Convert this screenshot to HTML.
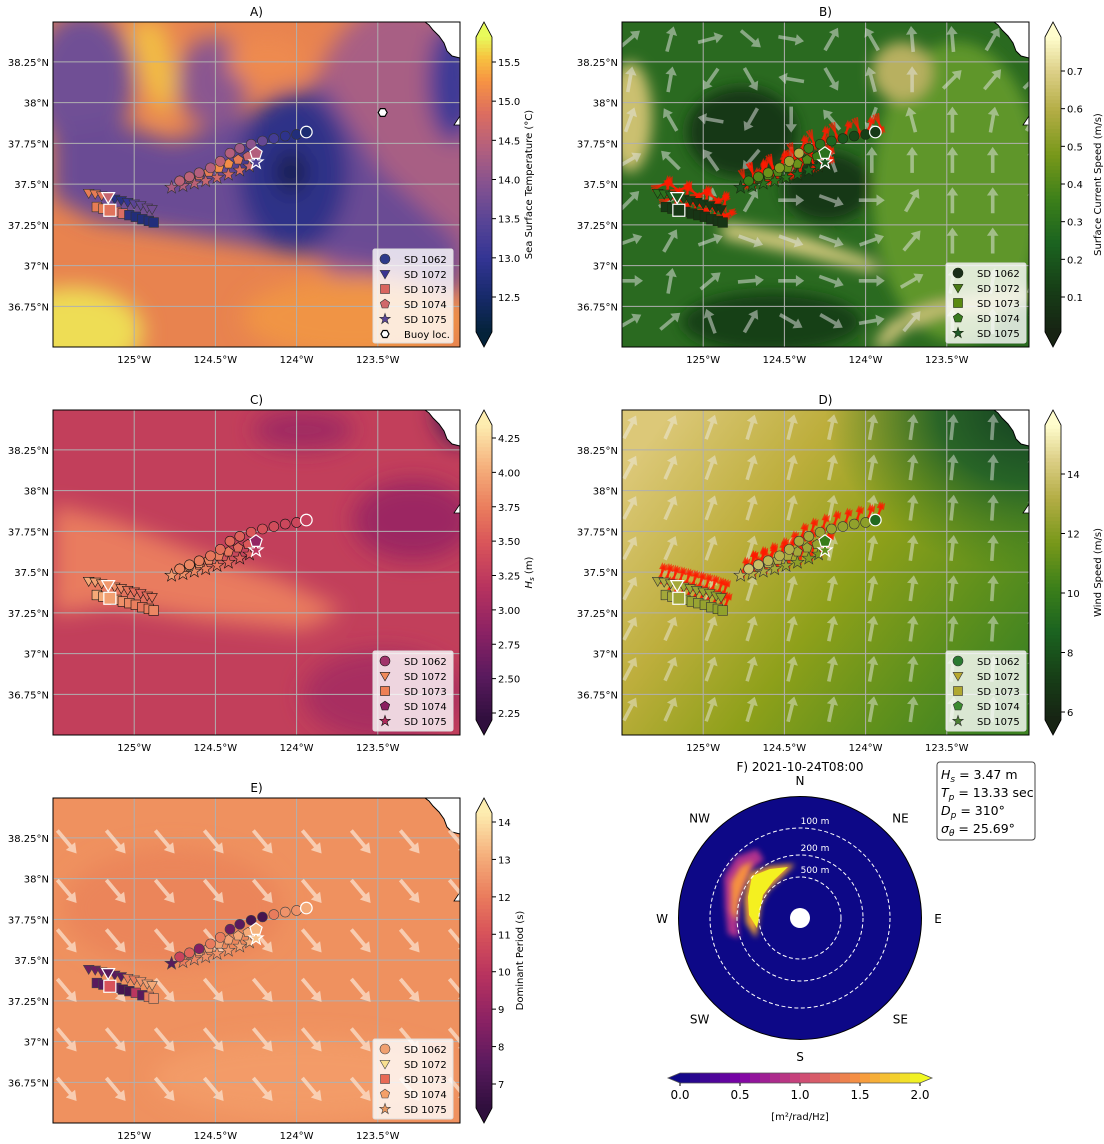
<!DOCTYPE html>
<html><head><meta charset="utf-8"><style>
body{margin:0;background:#fff}
svg{display:block;font-family:"DejaVu Sans","Liberation Sans",sans-serif}
</style></head><body>
<svg id="fig" width="1104" height="1144" viewBox="0 0 1104 1144" xmlns="http://www.w3.org/2000/svg">
<defs>
<filter id="b15" x="-30%" y="-30%" width="160%" height="160%"><feGaussianBlur stdDeviation="11"/></filter>
<filter id="b8" x="-30%" y="-30%" width="160%" height="160%"><feGaussianBlur stdDeviation="7"/></filter>
<filter id="b3" x="-30%" y="-30%" width="160%" height="160%"><feGaussianBlur stdDeviation="3"/></filter>
<linearGradient id="gD" x1="0" y1="0.2" x2="1" y2="0.8"><stop offset="0" stop-color="#dcc878"/><stop offset="0.3" stop-color="#bdae3c"/><stop offset="0.55" stop-color="#8ea01a"/><stop offset="0.8" stop-color="#5f901c"/><stop offset="1" stop-color="#3d8222"/></linearGradient>
<radialGradient id="gDtr" cx="1" cy="0" r="0.5"><stop offset="0" stop-color="#143f22"/><stop offset="0.45" stop-color="#1e5e28" stop-opacity="0.9"/><stop offset="1" stop-color="#3a7d22" stop-opacity="0"/></radialGradient>
</defs>
</svg>
<script>
// ---------- data ----------
const lonTicks=[-125,-124.5,-124,-123.5];
const lonLabels=["125°W","124.5°W","124°W","123.5°W"];
const latTicks=[38.25,38,37.75,37.5,37.25,37,36.75];
const latLabels=["38.25°N","38°N","37.75°N","37.5°N","37.25°N","37°N","36.75°N"];
const trackNames=["SD 1062","SD 1072","SD 1073","SD 1074","SD 1075"];
const c62Lon=[-124.72,-124.66,-124.60,-124.53,-124.47,-124.41,-124.35,-124.28,-124.21,-124.14,-124.07,-124.00,-123.94];
const c62Lat=[37.52,37.545,37.57,37.60,37.64,37.69,37.72,37.745,37.765,37.78,37.795,37.805,37.82];
const t72Lon=[-125.28,-125.24,-125.20,-125.16,-125.12,-125.08,-125.04,-125.00,-124.96,-124.92,-124.89];
const t72Lat=[37.445,37.44,37.43,37.42,37.41,37.40,37.39,37.38,37.37,37.355,37.345];
const q73Lon=[-125.23,-125.19,-125.15,-125.11,-125.07,-125.03,-124.99,-124.95,-124.91,-124.88];
const q73Lat=[37.36,37.35,37.34,37.33,37.32,37.31,37.30,37.285,37.275,37.265];
const p74Lon=[-124.72,-124.66,-124.60,-124.54,-124.48,-124.42,-124.36,-124.30,-124.25];
const p74Lat=[37.52,37.535,37.555,37.575,37.60,37.625,37.65,37.67,37.69];
const s75Lon=[-124.77,-124.70,-124.63,-124.56,-124.49,-124.42,-124.35,-124.29,-124.25];
const s75Lat=[37.48,37.49,37.505,37.52,37.54,37.56,37.585,37.61,37.635];
const buoyLon=[-123.47]; const buoyLat=[37.94];
const sstC=[14.5,14.5,14.4,14.4,14.5,14.4,14.2,14.0,13.6,13.2,12.9,12.7,12.6];
const sstT=[15.0,15.0,14.9,14.6,12.8,12.8,13.0,13.5,13.6,13.7,13.7];
const sstQ=[15.0,15.0,14.9,14.8,14.8,12.8,12.7,12.7,12.7,12.7];
const sstP=[14.5,14.6,14.8,15.0,15.2,15.2,15.0,14.6,14.4];
const sstS=[14.3,14.4,14.5,14.6,14.7,14.8,14.8,14.6,13.3];
const curC=[0.35,0.4,0.45,0.5,0.55,0.6,0.35,0.3,0.25,0.2,0.15,0.12,0.1];
const curT=[0.3,0.3,0.25,0.2,0.15,0.12,0.1,0.1,0.1,0.08,0.08];
const curQ=[0.1,0.1,0.1,0.08,0.08,0.08,0.08,0.08,0.08,0.08];
const curP=[0.3,0.35,0.4,0.4,0.45,0.45,0.4,0.35,0.3];
const curS=[0.2,0.25,0.3,0.3,0.3,0.25,0.25,0.2,0.2];
const hsC=[3.8,3.8,3.75,3.7,3.65,3.6,3.55,3.5,3.45,3.4,3.35,3.35,3.3];
const hsT=[4.0,3.95,3.9,3.9,3.85,3.8,3.7,3.65,3.6,3.65,3.7];
const hsQ=[4.0,4.0,3.95,3.9,3.85,3.8,3.75,3.7,3.75,3.8];
const hsP=[4.1,4.0,3.9,3.8,3.75,3.7,3.6,3.5,2.9];
const hsS=[3.9,3.85,3.8,3.75,3.7,3.6,3.55,3.5,3.2];
const wsC=[14,13.8,13.5,13.3,13.2,13.0,12.8,12.6,12.5,12.4,12.3,12.2,9];
const wsT=[13,13,12.8,12.8,12.6,12.6,12.5,12.5,12.4,12.4,12.3];
const wsQ=[12.8,12.8,12.7,12.6,12.5,12.5,12.4,12.4,12.3,12.3];
const wsP=[13.8,13.6,13.4,13.2,13,12.8,12.6,12.4,10];
const wsS=[13.5,13.2,13,12.8,12.5,12.2,12,11.8,11];
const tpC=[10.5,11.5,8.5,12,12,8,7.5,7,7,12,12.5,12.5,13];
const tpT=[8,8,8,7.5,7.5,7.5,12,12,12.5,12.8,13];
const tpQ=[7.5,7.5,11,7.5,7,7,10,7.5,12,12.5];
const tpP=[12.5,12.5,12.7,12.8,12.8,12.8,12.9,13,13.2];
const tpS=[7.5,12,12.2,12.4,12.5,12.6,12.8,13,13.5];
const curAng=[
[40,75,15,-40,-10,60,120,95,95,60,80],
[80,80,235,300,170,300,105,90,45,50,45],
[70,120,170,240,270,130,250,105,90,80,60],
[30,135,125,230,270,110,90,90,90,90,90],
[45,30,80,60,0,-20,0,60,90,90,90],
[20,60,20,-20,-20,-20,20,50,90,90,80],
[0,80,40,5,0,-20,0,30,80,80,70],
[30,40,110,60,-30,-30,10,50,90,90,80]];
const windAng=[62,66,70,73,76,78,80,82,84,86,88];
const perAng=[-50,-50,-50,-50,-50,-50,-50,-50,-50];
const sstTicks=[12.5,13.0,13.5,14.0,14.5,15.0,15.5];
const curTicks=[0.1,0.2,0.3,0.4,0.5,0.6,0.7];
const hsTicks=[2.25,2.5,2.75,3.0,3.25,3.5,3.75,4.0,4.25];
const wsTicks=[6,8,10,12,14];
const tpTicks=[7,8,9,10,11,12,13,14];
const specTicks=[0.0,0.5,1.0,1.5,2.0];
const compass=["N","NE","E","SE","S","SW","W","NW"];
const ringLabels=["100 m","200 m","500 m"];
const ringRadius=[90,63,41];

// ---------- helpers ----------
const NS="http://www.w3.org/2000/svg";
const svg=document.getElementById('fig');
function mk(tag,attrs,parent,name,inter){
  const el=document.createElementNS(NS,tag);
  for(const k in attrs) el.setAttribute(k,attrs[k]);
  
  
  (parent||svg).appendChild(el);return el;
}
function hex(h){return [parseInt(h.slice(1,3),16),parseInt(h.slice(3,5),16),parseInt(h.slice(5,7),16)];}
function cmap(stops,f){
  f=Math.max(0,Math.min(1,f));
  for(let i=1;i<stops.length;i++){ if(f<=stops[i][0]){const a=stops[i-1],b=stops[i];const t=(f-a[0])/(b[0]-a[0]);const ca=hex(a[1]),cb=hex(b[1]);return 'rgb('+ca.map((v,k)=>Math.round(v+(cb[k]-v)*t)).join(',')+')';}}
  return stops[stops.length-1][1];
}
const THERMAL=[[0,'#04233a'],[0.12,'#172a6a'],[0.25,'#333594'],[0.38,'#5a4596'],[0.5,'#855290'],[0.62,'#b25f7e'],[0.74,'#dc6d60'],[0.85,'#f79343'],[0.93,'#f7c340'],[1,'#e8fa5b']];
const SPEED=[[0,'#172313'],[0.15,'#173f17'],[0.3,'#1b6320'],[0.45,'#3c801a'],[0.6,'#78981a'],[0.75,'#b3ad45'],[0.88,'#dccf86'],[1,'#fffdcd']];
const MATTER=[[0,'#2f0f3d'],[0.15,'#5a1a5e'],[0.3,'#8c2264'],[0.45,'#b8335f'],[0.6,'#d9555a'],[0.72,'#ea7d5d'],[0.85,'#f5ad7a'],[1,'#fdedb0']];
const PLASMA=[[0,'#0d0887'],[0.25,'#7e03a8'],[0.5,'#cc4778'],[0.75,'#f89540'],[1,'#f0f921']];
const W=407,H=325;
function txt(x,y,s,opt,parent,name){
  const t=mk('text',Object.assign({x:x,y:y,'font-size':10,fill:'#000'},opt||{}),parent,name,false);
  t.textContent=s;return t;
}
function arrowPts(x,y,ang,L,w){
  const a=-ang*Math.PI/180,c=Math.cos(a),s=Math.sin(a);
  const hl=L*0.32,hw=w*1.6;
  const loc=[[-L/2,-w/2],[L/2-hl,-w/2],[L/2-hl,-hw],[L/2,0],[L/2-hl,hw],[L/2-hl,w/2],[-L/2,w/2]];
  return loc.map(p=>(x+p[0]*c-p[1]*s).toFixed(1)+','+(y+p[0]*s+p[1]*c).toFixed(1)).join(' ');
}
function markerShape(type,x,y,sz,fill,stroke,sw,parent,name){
  if(type==='c') return mk('circle',{cx:x,cy:y,r:sz,fill:fill,stroke:stroke,'stroke-width':sw},parent,name,false);
  if(type==='q') return mk('rect',{x:x-sz,y:y-sz,width:2*sz,height:2*sz,fill:fill,stroke:stroke,'stroke-width':sw},parent,name,false);
  let pts=[];
  if(type==='t'){pts=[[x-sz*1.1,y-sz*0.8],[x+sz*1.1,y-sz*0.8],[x,y+sz*1.1]];}
  if(type==='p'){for(let i=0;i<5;i++){const a=-Math.PI/2+i*2*Math.PI/5;pts.push([x+sz*1.1*Math.cos(a),y+sz*1.1*Math.sin(a)]);}}
  if(type==='s'){for(let i=0;i<10;i++){const a=-Math.PI/2+i*Math.PI/5;const r=i%2?sz*0.5:sz*1.25;pts.push([x+r*Math.cos(a),y+r*Math.sin(a)]);}}
  if(type==='h'){for(let i=0;i<6;i++){const a=i*Math.PI/3;pts.push([x+sz*Math.cos(a),y+sz*Math.sin(a)]);}}
  return mk('polygon',{points:pts.map(p=>p[0].toFixed(1)+','+p[1].toFixed(1)).join(' '),fill:fill,stroke:stroke,'stroke-width':sw},parent,name,false);
}

// ---------- backgrounds ----------
function bgA(g){
  mk('rect',{x:0,y:0,width:W,height:H,fill:'#e8834f'},g,'sst-base',false);
  const f=mk('g',{filter:'url(#b15)'},g,'sst-field',false);
  mk('ellipse',{cx:345,cy:140,rx:95,ry:160,fill:'#a85e84'},f,'sst-warm-patch',false);
  mk('ellipse',{cx:30,cy:60,rx:50,ry:70,fill:'#6f4f95'},f,'sst-cold-nw',false);
  mk('ellipse',{cx:160,cy:60,rx:35,ry:45,fill:'#8a5690'},f,'sst-cold-n',false);
  mk('polygon',{points:'0,110 60,100 120,120 200,90 270,60 330,150 407,220 407,275 320,245 220,228 130,212 40,198 0,175',fill:'#6b4c94'},f,'sst-cold-band',false);
  mk('ellipse',{cx:240,cy:150,rx:55,ry:80,fill:'#2e3088'},f,'sst-cold-core',false);
  mk('polygon',{points:'75,0 110,0 125,60 110,100 90,60',fill:'#f2bd45'},f,'sst-warm-streak',false);
  mk('ellipse',{cx:215,cy:40,rx:40,ry:25,fill:'#ee8a50'},f,'sst-warm-top',false);
  mk('ellipse',{cx:20,cy:310,rx:70,ry:45,fill:'#eedd55'},f,'sst-warm-corner',false);
  mk('ellipse',{cx:300,cy:295,rx:110,ry:40,fill:'#f09445'},f,'sst-warm-bottom',false);
  mk('ellipse',{cx:400,cy:60,rx:25,ry:60,fill:'#3c3a96'},f,'sst-coastal-cold',false);
  mk('ellipse',{cx:238,cy:150,rx:15,ry:22,fill:'#151f4a'},f,'sst-coldest',false);
}
function bgB(g){
  mk('rect',{x:0,y:0,width:W,height:H,fill:'#2a6a20'},g,'current-base',false);
  const f=mk('g',{filter:'url(#b8)'},g,'current-field',false);
  mk('ellipse',{cx:335,cy:170,rx:85,ry:150,fill:'#5f962a'},f,'current-fast-east',false);
  mk('ellipse',{cx:280,cy:50,rx:30,ry:30,fill:'#b8b060'},f,'current-fast-n',false);
  mk('ellipse',{cx:8,cy:95,rx:22,ry:55,fill:'#cbc070'},f,'current-fast-w',false);
  mk('polygon',{points:'100,200 180,214 250,238 258,252 180,233 100,216',fill:'#d8cc80'},f,'current-jet',false);
  mk('ellipse',{cx:120,cy:110,rx:55,ry:45,fill:'#143714'},f,'current-slow-1',false);
  mk('ellipse',{cx:205,cy:165,rx:45,ry:35,fill:'#143714'},f,'current-slow-2',false);
  mk('ellipse',{cx:150,cy:300,rx:90,ry:30,fill:'#163f16'},f,'current-slow-3',false);
  mk('polygon',{points:'250,325 268,300 310,283 407,268 407,280 315,293 280,310 265,325',fill:'#d8c980'},f,'current-jet-2',false);
}
function bgC(g){
  mk('rect',{x:0,y:0,width:W,height:H,fill:'#c23f5b'},g,'hs-base',false);
  const f=mk('g',{filter:'url(#b15)'},g,'hs-field',false);
  mk('polygon',{points:'0,95 60,110 150,145 230,170 290,200 250,220 150,210 60,195 0,205',fill:'#e97c5e'},f,'hs-high-band',false);
  mk('ellipse',{cx:360,cy:110,rx:60,ry:40,fill:'#9c2662'},f,'hs-low-1',false);
  mk('ellipse',{cx:330,cy:285,rx:80,ry:45,fill:'#a82d60'},f,'hs-low-2',false);
  mk('ellipse',{cx:250,cy:20,rx:50,ry:20,fill:'#a02a62'},f,'hs-low-3',false);
  mk('ellipse',{cx:407,cy:0,rx:25,ry:35,fill:'#4a1a55'},f,'hs-low-coast',false);
}
function bgD(g){
  mk('rect',{x:0,y:0,width:W,height:H,fill:'url(#gD)'},g,'wind-base',false);
  mk('rect',{x:0,y:0,width:W,height:H,fill:'url(#gDtr)'},g,'wind-low-corner',false);
}
function bgE(g){
  mk('rect',{x:0,y:0,width:W,height:H,fill:'#ef915f'},g,'period-base',false);
  const f=mk('g',{filter:'url(#b15)'},g,'period-field',false);
  mk('ellipse',{cx:120,cy:110,rx:110,ry:60,fill:'#eb855a'},f,'period-low',false);
  mk('ellipse',{cx:250,cy:280,rx:150,ry:40,fill:'#f39b68'},f,'period-high',false);
}

// ---------- panels ----------
const panels=[
 {id:'a',title:'A)',x:53,y:22,cb:476,bg:bgA,cm:THERMAL,t1v:15.5,t1y:40,t2v:12.5,t2y:275,ticks:sstTicks,fmt:1,label:'Sea Surface Temperature (°C)',
  vals:[sstC,sstT,sstQ,sstP,sstS],legCols:['#2d3a8a','#3a3592','#d9655e','#d0686a','#5a4596'],buoy:true,edge:'#333'},
 {id:'b',title:'B)',x:622,y:22,cb:1045,bg:bgB,cm:SPEED,t1v:0.7,t1y:49,t2v:0.1,t2y:275,ticks:curTicks,fmt:1,label:'Surface Current Speed (m/s)',
  vals:[curC,curT,curQ,curP,curS],legCols:['#1a2e1a','#4a7a18','#5a8a10','#3a7a20','#1e5a28'],quiver:'cur',red:'cur',edge:'#1a2a10'},
 {id:'c',title:'C)',x:53,y:410,cb:476,bg:bgC,cm:MATTER,t1v:4.25,t1y:28,t2v:2.25,t2y:303,ticks:hsTicks,fmt:2,label:'H_s (m)',
  vals:[hsC,hsT,hsQ,hsP,hsS],legCols:['#a0336a','#f08a5a','#ee8055','#8a1f60','#b02a5c'],edge:'#111'},
 {id:'d',title:'D)',x:622,y:410,cb:1045,bg:bgD,cm:SPEED,t1v:14,t1y:64,t2v:6,t2y:302,ticks:wsTicks,fmt:0,label:'Wind Speed (m/s)',
  vals:[wsC,wsT,wsQ,wsP,wsS],legCols:['#2a7a30','#b8a830','#b0a830','#3c8a30','#4a8030'],quiver:'wind',red:'wind',edge:'#333'},
 {id:'e',title:'E)',x:53,y:798,cb:476,bg:bgE,cm:MATTER,t1v:14,t1y:24,t2v:7,t2y:286,ticks:tpTicks,fmt:0,label:'Dominant Period (s)',
  vals:[tpC,tpT,tpQ,tpP,tpS],legCols:['#f0a070','#f8e090','#e86a55','#f4a068','#e89860'],quiver:'per',edge:'#444'}
];
const tracksLon=[c62Lon,t72Lon,q73Lon,p74Lon,s75Lon];
const tracksLat=[c62Lat,t72Lat,q73Lat,p74Lat,s75Lat];
const shapes=['c','t','q','p','s'];
const hiIdx=[12,3,2,8,8];
const drawOrder=[2,1,4,3,0];

panels.forEach(P=>{
  const xs=lon=>(lon+125.5)*162.4;
  const ys=lat=>(38.495-lat)*163;
  const vAt=y=>P.t1v+(y-P.t1y)*(P.t2v-P.t1v)/(P.t2y-P.t1y);
  const vmax=vAt(15), vmin=vAt(H-15);
  const col=v=>cmap(P.cm,(v-vmin)/(vmax-vmin));
  const g=mk('g',{transform:'translate('+P.x+','+P.y+')'},svg,'panel-'+P.id,false);
  const cp=mk('clipPath',{id:'clip'+P.id},g,'clip-'+P.id,false);
  mk('rect',{x:0,y:0,width:W,height:H},cp,'clip-rect',false);
  const m=mk('g',{'clip-path':'url(#clip'+P.id+')'},g,'map-'+P.id,false);
  P.bg(m);
  mk('polygon',{points:'372,0 407,0 407,36 399,34 394,29 391,21 386,14 380,8 376,3',fill:'#fff',stroke:'#000','stroke-width':1},m,'coastline',false);
  mk('polygon',{points:'407,94 401,103 407,103',fill:'#fff',stroke:'#000','stroke-width':0.8},m,'coastline-bay',false);
  lonTicks.forEach((lo,i)=>{mk('line',{x1:xs(lo),y1:0,x2:xs(lo),y2:H,stroke:'#b0b0b0','stroke-width':1},m,'grid-lon-'+i,false);});
  latTicks.forEach((la,i)=>{mk('line',{x1:0,y1:ys(la),x2:W,y2:ys(la),stroke:'#b0b0b0','stroke-width':1},m,'grid-lat-'+i,false);});
  if(P.quiver==='cur'){
    curAng.forEach((row,j)=>row.forEach((a,i)=>{mk('polygon',{points:arrowPts(8+i*40.3,17+j*40.3,a,26,3.6),fill:'#e6e6e6','fill-opacity':0.5},m,'current-arrow',false);}));
  }
  if(P.quiver==='wind'){
    for(let j=0;j<8;j++) windAng.forEach((a,i)=>{mk('polygon',{points:arrowPts(8+i*40.3,17+j*40.3,a,26,3.6),fill:'#f0f0f0','fill-opacity':0.45},m,'wind-arrow',false);});
  }
  if(P.quiver==='per'){
    for(let j=0;j<7;j++) perAng.forEach((a,i)=>{mk('polygon',{points:arrowPts(14+i*49,44+j*49.5,a,30,3.8),fill:'#fbe0cc','fill-opacity':0.75},m,'period-arrow',false);});
  }
  if(P.red){
    [0,1,2,3,4].forEach(k=>{
      tracksLon[k].forEach((lo,i)=>{
        const base=P.red==='wind'?72:(k===1||k===2?(i%3===0?20:i%3===1?80:-40):(i%2?70:-70));
        [-14,0,14].forEach(d=>{
          mk('polygon',{points:arrowPts(xs(lo)+4,ys(tracksLat[k][i])-8,base+d,22,1.8),fill:'#ff1a00','fill-opacity':0.7},m,'drifter-vector',false);
        });
      });
    });
  }
  drawOrder.forEach(k=>{
    const tg=mk('g',{},m,'track-'+trackNames[k].replace(' ','-').toLowerCase(),false);
    tracksLon[k].forEach((lo,i)=>{
      const sz=k===0?5:k===4?5.5:4.8;
      markerShape(shapes[k],xs(lo),ys(tracksLat[k][i]),sz,col(P.vals[k][i]),P.edge,0.6,tg,'drifter-marker');
    });
  });
  drawOrder.forEach(k=>{
    const i=hiIdx[k];
    markerShape(shapes[k],xs(tracksLon[k][i]),ys(tracksLat[k][i]),k===2?6:5.8,col(P.vals[k][i]),'#fff',1.2,m,'current-position-'+trackNames[k].replace(' ','-').toLowerCase());
  });
  if(P.buoy){buoyLon.forEach((lo,i)=>markerShape('h',xs(lo),ys(buoyLat[i]),4.5,'#fff','#000',1.2,m,'buoy-marker'));}
  mk('rect',{x:0,y:0,width:W,height:H,fill:'none',stroke:'#000','stroke-width':1},g,'map-frame',false);
  txt(W/2,-6,P.title,{'text-anchor':'middle','font-size':12},g,'panel-title');
  lonTicks.forEach((lo,i)=>{txt(xs(lo),H+16,lonLabels[i],{'text-anchor':'middle'},g,'lon-tick-label');});
  latTicks.forEach((la,i)=>{txt(-4,ys(la)+4,latLabels[i],{'text-anchor':'end'},g,'lat-tick-label');});
  const isA=!!P.buoy;
  const lx=P.x<300?320:324, lh=isA?94:80, ly=H-4-lh;
  const lg=mk('g',{},g,'legend',false);
  mk('rect',{x:lx,y:ly,width:80,height:lh,rx:2,fill:'#fff','fill-opacity':0.8,stroke:'#ddd'},lg,'legend-box',false);
  trackNames.forEach((n,k)=>{
    const yy=ly+10+k*15;
    markerShape(shapes[k],lx+12,yy,k===0?5:4.5,P.legCols[k],P.edge,0.6,lg,'legend-marker');
    txt(lx+31,yy+4,n,{},lg,'legend-entry');
  });
  if(isA){const yy=ly+10+5*15;markerShape('h',lx+12,yy,4,'#fff','#000',1.2,lg,'legend-marker');txt(lx+31,yy+4,'Buoy loc.',{},lg,'legend-entry');}
  const cg=mk('g',{transform:'translate('+(P.cb-P.x)+',0)'},g,'colorbar',false);
  const N=80,bt=15,bb=H-15;
  for(let i=0;i<N;i++){const y0=bt+(bb-bt)*i/N;mk('rect',{x:0,y:y0,width:16,height:(bb-bt)/N+0.6,fill:col(vAt(y0+(bb-bt)/N/2))},cg,'colorbar-segment',false);}
  mk('polygon',{points:'0,'+bt+' 8,0 16,'+bt,fill:col(vmax+1e-6)},cg,'colorbar-extend-max',false);
  mk('polygon',{points:'0,'+bb+' 8,'+H+' 16,'+bb,fill:col(vmin-1e-6)},cg,'colorbar-extend-min',false);
  mk('polygon',{points:'0,'+bt+' 8,0 16,'+bt+' 16,'+bb+' 8,'+H+' 0,'+bb,fill:'none',stroke:'#000','stroke-width':0.8},cg,'colorbar-outline',false);
  P.ticks.forEach(v=>{
    const y=P.t1y+(v-P.t1v)*(P.t2y-P.t1y)/(P.t2v-P.t1v);
    mk('line',{x1:16,y1:y,x2:20,y2:y,stroke:'#000'},cg,'colorbar-tick',false);
    txt(22,y+4,v.toFixed(P.fmt),{},cg,'colorbar-tick-label');
  });
  const lab=mk('text',{x:0,y:0,'font-size':10,'text-anchor':'middle',transform:'translate('+(P.id==='e'?47:56)+','+(H/2)+') rotate(-90)'},cg,'colorbar-label',false);
  if(P.label==='H_s (m)'){lab.innerHTML='<tspan font-style="italic">H</tspan><tspan font-size="7" dy="2" font-style="italic">s</tspan><tspan dy="-2"> (m)</tspan>';}
  else lab.textContent=P.label;
});

// ---------- panel F ----------
const F=mk('g',{},svg,'panel-f',false);
const cx=800,cy=918,R=121.5;
txt(cx,771,'F) 2021-10-24T08:00',{'text-anchor':'middle','font-size':12},F,'panel-title');
mk('circle',{cx:cx,cy:cy,r:R,fill:'#0d0887',stroke:'#000','stroke-width':1},F,'spectrum-disk',false);
const sp=mk('g',{},F,'wave-spectrum',false);
mk('polygon',{points:'724,877 736,857 757,849 764,860 750,870 741,890 737,910 739,938 728,934 725,907',fill:'#b0308e',filter:'url(#b3)'},sp,'spectrum-outer-lobe',false);
mk('polygon',{points:'731,882 741,866 753,861 746,880 739,900 737,922 731,912',fill:'#f59040',filter:'url(#b3)'},sp,'spectrum-outer-core',false);
mk('polygon',{points:'749,873 770,866 795,864 788,871 778,881 768,891 761,904 756,938 746,923 744,900',fill:'#f0a030',filter:'url(#b3)'},sp,'spectrum-inner-lobe',false);
mk('polygon',{points:'752,876 770,869 788,867 774,880 763,895 757,928 749,915 748,897',fill:'#f4f020'},sp,'spectrum-peak',false);
ringRadius.forEach((r,i)=>{
  mk('circle',{cx:cx,cy:cy,r:r,fill:'none',stroke:'#fff','stroke-width':1,'stroke-dasharray':'4,2.5'},F,'depth-ring',false);
  txt(cx+15,cy-r-4,ringLabels[i],{'text-anchor':'middle','font-size':9,fill:'#fff'},F,'depth-ring-label');
});
mk('circle',{cx:cx,cy:cy,r:10,fill:'#fff'},F,'spectrum-center',false);
compass.forEach((c,i)=>{
  const a=i*Math.PI/4, rr=(i%2)?142:138;
  txt(cx+rr*Math.sin(a),cy-rr*Math.cos(a)+5,c,{'text-anchor':'middle','font-size':12},F,'compass-label');
});
mk('rect',{x:937,y:762,width:98,height:78,rx:3,fill:'#fff',stroke:'#444','stroke-width':1},F,'stats-box',false);
const st=mk('text',{x:941,y:779,'font-size':12.5},F,'stats-text',false);
st.innerHTML='<tspan font-style="italic">H</tspan><tspan font-size="9" dy="3" font-style="italic">s</tspan><tspan dy="-3"> = 3.47 m</tspan>'+
 '<tspan x="941" dy="18" font-style="italic">T</tspan><tspan font-size="9" dy="3" font-style="italic">p</tspan><tspan dy="-3"> = 13.33 sec</tspan>'+
 '<tspan x="941" dy="18" font-style="italic">D</tspan><tspan font-size="9" dy="3" font-style="italic">p</tspan><tspan dy="-3"> = 310°</tspan>'+
 '<tspan x="941" dy="18" font-style="italic">σ</tspan><tspan font-size="9" dy="3" font-style="italic">θ</tspan><tspan dy="-3"> = 25.69°</tspan>';
const hb=mk('g',{},F,'spectrum-colorbar',false);
const hx0=680,hx1=920,hy=1073,hh=10,NS2=24;
for(let i=0;i<NS2;i++){mk('rect',{x:hx0+(hx1-hx0)*i/NS2,y:hy,width:(hx1-hx0)/NS2+0.5,height:hh,fill:cmap(PLASMA,(i+0.5)/NS2)},hb,'colorbar-segment',false);}
mk('polygon',{points:hx0+','+hy+' 668,'+(hy+hh/2)+' '+hx0+','+(hy+hh),fill:'#0d0887'},hb,'colorbar-extend-min',false);
mk('polygon',{points:hx1+','+hy+' 932,'+(hy+hh/2)+' '+hx1+','+(hy+hh),fill:'#f0f921'},hb,'colorbar-extend-max',false);
mk('polygon',{points:hx0+','+hy+' '+hx1+','+hy+' 932,'+(hy+hh/2)+' '+hx1+','+(hy+hh)+' '+hx0+','+(hy+hh)+' 668,'+(hy+hh/2),fill:'none',stroke:'#555','stroke-width':0.8},hb,'colorbar-outline',false);
specTicks.forEach(v=>{
  const x=hx0+(hx1-hx0)*v/2;
  mk('line',{x1:x,y1:hy+hh,x2:x,y2:hy+hh+3,stroke:'#000'},hb,'colorbar-tick',false);
  txt(x,hy+hh+16,v.toFixed(1),{'text-anchor':'middle','font-size':12},hb,'colorbar-tick-label');
});
txt(800,1120,'[m²/rad/Hz]',{'text-anchor':'middle','font-size':10},hb,'colorbar-label');
</script>
</body></html>
